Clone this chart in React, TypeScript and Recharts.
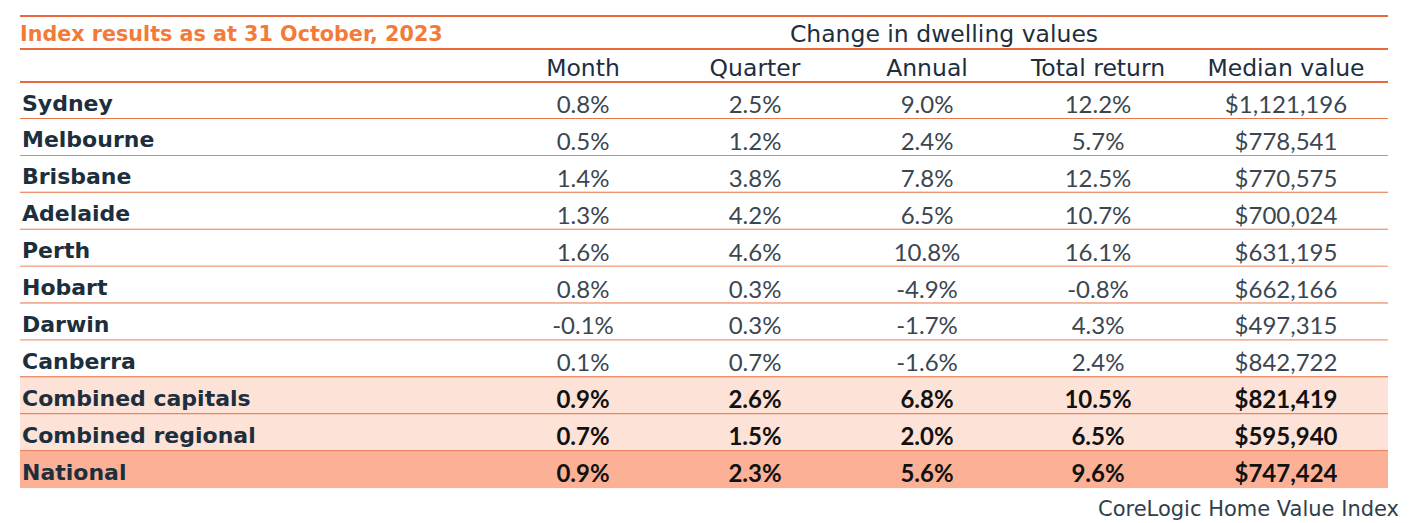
import { BarChart, Bar, XAxis, YAxis, LabelList } from 'recharts';

document.body.style.margin = '0';

// Index results as at 31 October, 2023 (CoreLogic Home Value Index)
const regions = [
  'Sydney', 'Melbourne', 'Brisbane', 'Adelaide', 'Perth', 'Hobart',
  'Darwin', 'Canberra', 'Combined capitals', 'Combined regional', 'National',
];
const month = [0.8, 0.5, 1.4, 1.3, 1.6, 0.8, -0.1, 0.1, 0.9, 0.7, 0.9];
const quarter = [2.5, 1.2, 3.8, 4.2, 4.6, 0.3, 0.3, 0.7, 2.6, 1.5, 2.3];
const annual = [9.0, 2.4, 7.8, 6.5, 10.8, -4.9, -1.7, -1.6, 6.8, 2.0, 5.6];
const totalReturn = [12.2, 5.7, 12.5, 10.7, 16.1, -0.8, 4.3, 2.4, 10.5, 6.5, 9.6];
const medianValue = [
  1121196, 778541, 770575, 700024, 631195, 662166, 497315, 842722, 821419, 595940, 747424,
];
const columnLabels = ['Month', 'Quarter', 'Annual', 'Total return', 'Median value'];

const LINE = '#e9693a';
const TITLE = '#f27b3a';
const DARK = '#1d2e3d';
const VALUE = '#3b4651';
const LEFT = 20;
const RIGHT = 1388;
const colCenters = [583, 755, 927, 1098, 1286];
const LABEL_FONT = '"DejaVu Sans", sans-serif';

const combinedRows = ['Combined capitals', 'Combined regional'];
const rowFill = (name: string) =>
  name === 'National' ? '#fcb196' : combinedRows.includes(name) ? '#fde2d7' : '#ffffff';
const isBold = (name: string) => name === 'National' || combinedRows.includes(name);

const fmtPct = (v: number) => `${v.toFixed(1)}%`;
const fmtMoney = (v: number) => '$' + v.toLocaleString('en-US');

const data = regions.map((name, i) => ({
  name,
  month: month[i],
  quarter: quarter[i],
  annual: annual[i],
  totalReturn: totalReturn[i],
  medianValue: medianValue[i],
  row: 1,
}));

const valueKeys = ['month', 'quarter', 'annual', 'totalReturn', 'medianValue'];

const RowShape = (props: any) => {
  const { x, y, width, height, payload, index } = props;
  const last = index === data.length - 1;
  return (
    <g>
      <rect x={x} y={y} width={width} height={height} fill={rowFill(payload.name)} />
      {!last && (
        <line x1={x} x2={x + width} y1={y + height} y2={y + height} stroke={LINE} strokeWidth={2} />
      )}
    </g>
  );
};

const hLine = (top: number) => (
  <div
    style={{
      position: 'absolute',
      left: LEFT,
      top: top - 1,
      width: RIGHT - LEFT,
      height: 2,
      background: LINE,
    }}
  />
);

export default function App() {
  return (
    <div style={{ position: 'relative', width: 1416, height: 523, background: '#fff', overflow: 'hidden' }}>
      <BarChart
        width={1416}
        height={523}
        data={data}
        layout="vertical"
        margin={{ top: 82, right: 1416 - RIGHT, bottom: 523 - 488, left: LEFT }}
        barCategoryGap={0}
        barGap={0}
        style={{ position: 'absolute', left: 0, top: 0 }}
      >
        <XAxis type="number" domain={[0, 1]} hide />
        <YAxis type="category" dataKey="name" hide />
        <Bar dataKey="row" shape={RowShape} isAnimationActive={false}>
          <LabelList
            dataKey="name"
            content={(p: any) => (
              <text
                x={p.x + 2}
                y={p.y + p.height / 2 + 2.5}
                dominantBaseline="central"
                fontFamily={LABEL_FONT}
                fontWeight={700}
                fontSize={22}
                fill={DARK}
              >
                {p.value}
              </text>
            )}
          />
          {valueKeys.map((key, c) => (
            <LabelList
              key={key}
              dataKey={key}
              content={(p: any) => {
                const bold = isBold(data[p.index].name);
                return (
                  <text
                    x={p.x + (colCenters[c] - LEFT)}
                    y={p.y + p.height / 2 + 3}
                    textAnchor="middle"
                    dominantBaseline="central"
                    fontFamily="Lato, sans-serif"
                    fontWeight={bold ? 700 : 400}
                    fontSize={24}
                    fill={bold ? '#111' : VALUE}
                  >
                    {key === 'medianValue' ? fmtMoney(p.value) : fmtPct(p.value)}
                  </text>
                );
              }}
            />
          ))}
        </Bar>
      </BarChart>

      {hLine(16)}
      {hLine(49)}
      {hLine(82)}
      <div
        style={{
          position: 'absolute',
          left: LEFT,
          top: 19,
          height: 31,
          lineHeight: '31px',
          fontFamily: LABEL_FONT,
          fontWeight: 700,
          fontSize: 20.7,
          color: TITLE,
          whiteSpace: 'nowrap',
        }}
      >
        Index results as at 31 October, 2023
      </div>
      <div
        style={{
          position: 'absolute',
          left: 644,
          width: 600,
          top: 19,
          height: 31,
          lineHeight: '31px',
          textAlign: 'center',
          fontFamily: LABEL_FONT,
          fontSize: 23.5,
          color: DARK,
        }}
      >
        Change in dwelling values
      </div>
      {columnLabels.map((label, c) => (
        <div
          key={label}
          style={{
            position: 'absolute',
            left: colCenters[c] - 100,
            width: 200,
            top: 53,
            height: 31,
            lineHeight: '31px',
            textAlign: 'center',
            fontFamily: LABEL_FONT,
            fontSize: 23.5,
            color: DARK,
          }}
        >
          {label}
        </div>
      ))}
      <div
        style={{
          position: 'absolute',
          right: 1416 - 1399,
          top: 496,
          lineHeight: '26px',
          fontFamily: LABEL_FONT,
          fontSize: 21,
          color: '#2f3e4a',
          whiteSpace: 'nowrap',
        }}
      >
        CoreLogic Home Value Index
      </div>
    </div>
  );
}
